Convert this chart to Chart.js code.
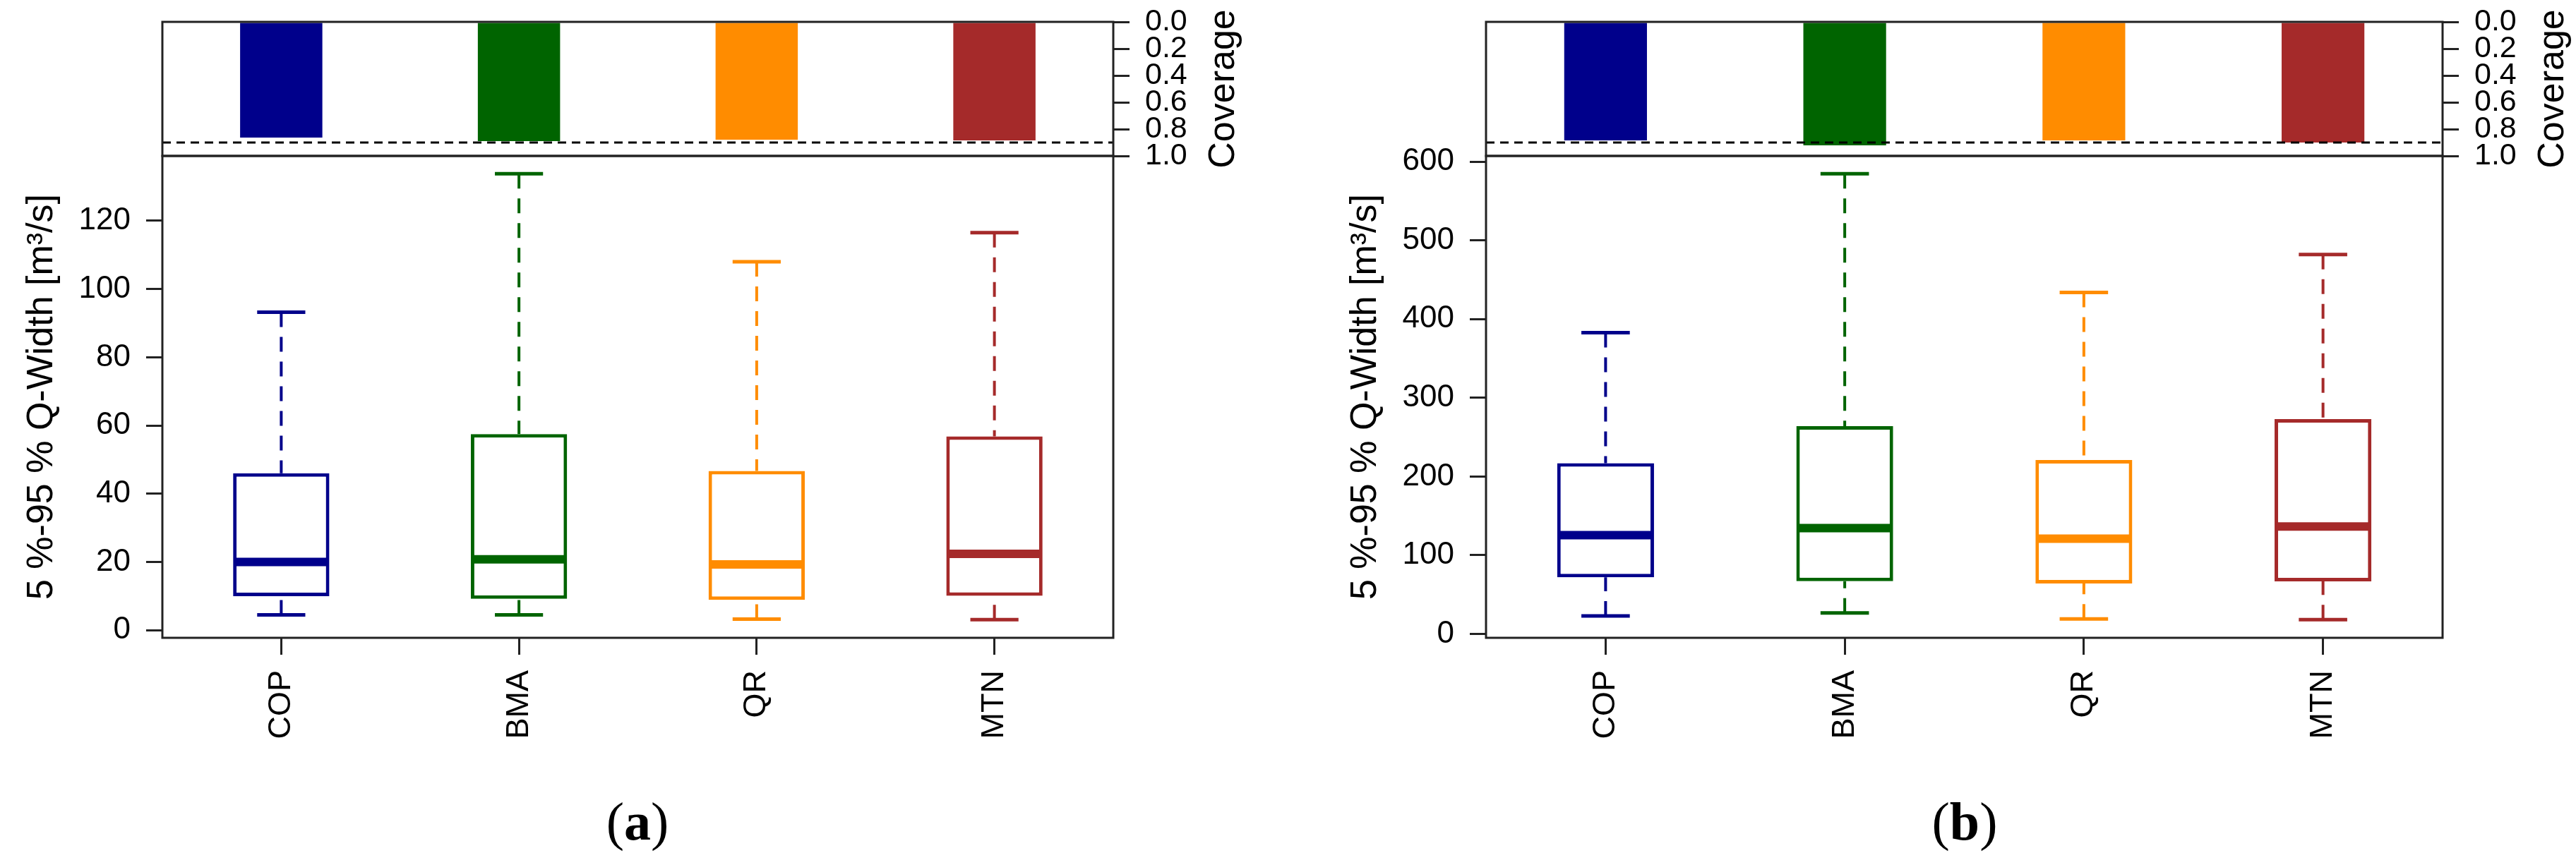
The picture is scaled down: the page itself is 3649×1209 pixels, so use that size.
<!DOCTYPE html>
<html>
<head>
<meta charset="utf-8">
<script src="https://cdn.jsdelivr.net/npm/chart.js@4.4.0/dist/chart.umd.min.js"></script>
<style>
  html, body { margin: 0; padding: 0; background: #fff; }
  body { width: 3649px; height: 1209px; position: relative; overflow: hidden; }
  canvas { position: absolute; }
  .tag {
    position: absolute;
    font-family: "Liberation Serif", "Times New Roman", serif;
    font-size: 76px;
    line-height: 1;
    transform: translateX(-50%);
  }
</style>
</head>
<body>
<canvas id="covA"></canvas>
<canvas id="boxA"></canvas>
<canvas id="covB"></canvas>
<canvas id="boxB"></canvas>
<div class="tag" style="left:903px; top:1126px">(<b>a</b>)</div>
<div class="tag" style="left:2783px; top:1126px">(<b>b</b>)</div>
<script>
// methods and colours
const methods = ['COP', 'BMA', 'QR', 'MTN'];
const colors = ['#00008B', '#006400', '#FF8C00', '#A52A2A'];

// (a) 5%-95% Q-width, boxplot stats
const aLow = [4.5, 4.5, 3.3, 3.1];
const aQ1 = [10.0, 9.2, 8.9, 10.1];
const aMed = [20.0, 20.8, 19.3, 22.4];
const aQ3 = [46.0, 57.5, 46.7, 56.8];
const aHigh = [93.2, 133.8, 108.0, 116.5];
const aCoverage = [0.863, 0.889, 0.879, 0.884];
const aTicks = [0, 20, 40, 60, 80, 100, 120];

// (b)
const bLow = [22.9, 26.6, 19.0, 18.0];
const bQ1 = [71.8, 66.9, 64.0, 66.8];
const bMed = [125.4, 134.4, 121.0, 136.5];
const bQ3 = [217.0, 264.0, 221.0, 273.0];
const bHigh = [382.7, 584.7, 434.0, 482.0];
const bCoverage = [0.884, 0.921, 0.884, 0.900];
const bTicks = [0, 100, 200, 300, 400, 500, 600];

const coverageTicks = [0, 0.2, 0.4, 0.6, 0.8, 1.0];
const coverageTarget = 0.9;

const FONT = '"Liberation Sans", Arial, Helvetica, sans-serif';
Chart.defaults.font.family = FONT;
Chart.defaults.color = '#000';

// page rows (plot area edges), canvases get extra room PAD round them
const PAD = 70;
const covTop = 31, sepY = 221, axisY = 904;

// box round the plot area (R style)
const frame = {
  id: 'frame',
  afterDraw(chart) {
    const { ctx, chartArea: a } = chart;
    ctx.save();
    ctx.strokeStyle = '#222';
    ctx.lineWidth = 3;
    ctx.strokeRect(a.left, a.top, a.right - a.left, a.bottom - a.top);
    ctx.restore();
  }
};

// dashed target line in the coverage strip
const coverageLine = {
  id: 'coverageLine',
  afterDatasetsDraw(chart) {
    const { ctx, chartArea: a, scales: { y } } = chart;
    const py = y.getPixelForValue(coverageTarget);
    ctx.save();
    ctx.strokeStyle = '#000';
    ctx.lineWidth = 3;
    ctx.setLineDash([12, 8]);
    ctx.beginPath();
    ctx.moveTo(a.left, py);
    ctx.lineTo(a.right, py);
    ctx.stroke();
    ctx.restore();
  }
};

// right axis title reads bottom-to-top, so draw it by hand
const coverageTitle = {
  id: 'coverageTitle',
  afterDraw(chart) {
    const { ctx, chartArea: a } = chart;
    ctx.save();
    ctx.translate(a.right + 157, (a.top + a.bottom) / 2);
    ctx.rotate(-Math.PI / 2);
    ctx.font = '52px ' + FONT;
    ctx.fillStyle = '#000';
    ctx.textAlign = 'center';
    ctx.textBaseline = 'middle';
    ctx.fillText('Coverage', 0, 0);
    ctx.restore();
  }
};

// whiskers, caps and medians on top of the floating-bar boxes
function whiskers(s) {
  return {
    id: 'whiskers',
    afterDatasetsDraw(chart) {
      const { ctx, scales: { x, y } } = chart;
      const bars = chart.getDatasetMeta(0).data;
      ctx.save();
      methods.forEach((m, i) => {
        const xc = x.getPixelForValue(i);
        const half = bars[i].width / 2;
        ctx.strokeStyle = colors[i];

        ctx.lineWidth = 4;
        ctx.setLineDash([21, 14]);
        ctx.beginPath();
        ctx.moveTo(xc, y.getPixelForValue(s.high[i]));
        ctx.lineTo(xc, y.getPixelForValue(s.q3[i]));
        ctx.moveTo(xc, y.getPixelForValue(s.low[i]));
        ctx.lineTo(xc, y.getPixelForValue(s.q1[i]));
        ctx.stroke();

        ctx.setLineDash([]);
        ctx.lineWidth = 5;
        ctx.beginPath();
        [s.high[i], s.low[i]].forEach(v => {
          const py = y.getPixelForValue(v);
          ctx.moveTo(xc - half / 2, py);
          ctx.lineTo(xc + half / 2, py);
        });
        ctx.stroke();

        ctx.lineWidth = 12;
        ctx.beginPath();
        const pm = y.getPixelForValue(s.med[i]);
        ctx.moveTo(xc - half + 2, pm);
        ctx.lineTo(xc + half - 2, pm);
        ctx.stroke();
      });
      ctx.restore();
    }
  };
}

function coverageChart(id, left, plotRight, values) {
  const canvas = document.getElementById(id);
  const axisW = 225;
  canvas.width = plotRight - left + axisW;
  canvas.height = (sepY - covTop) + 2 * PAD;
  canvas.style.left = left + 'px';
  canvas.style.top = (covTop - PAD) + 'px';
  return new Chart(canvas, {
    type: 'bar',
    data: {
      labels: methods,
      datasets: [{
        data: values,
        backgroundColor: colors,
        borderWidth: 0,
        barPercentage: 0.346,
        categoryPercentage: 1
      }]
    },
    options: {
      responsive: false,
      devicePixelRatio: 1,
      animation: false,
      layout: { padding: { left: 230, top: PAD, bottom: PAD, right: 0 } },
      plugins: { legend: { display: false }, tooltip: { enabled: false } },
      scales: {
        x: { display: false },
        y: {
          position: 'right',
          reverse: true,
          min: 0,
          max: 1,
          afterBuildTicks: sc => { sc.ticks = coverageTicks.map(v => ({ value: v })); },
          afterFit: sc => { sc.width = axisW; },
          grid: { drawOnChartArea: false, tickLength: 23, lineWidth: 3, color: '#222' },
          border: { display: false },
          ticks: {
            autoSkip: false,
            padding: 22,
            font: { size: 43 },
            callback: v => v.toFixed(1)
          }
        }
      }
    },
    plugins: [frame, coverageLine, coverageTitle]
  });
}

function boxChart(id, left, plotRight, s) {
  const canvas = document.getElementById(id);
  const xAxisH = 296;
  canvas.width = plotRight - left + 40;
  canvas.height = PAD + (axisY - sepY) + xAxisH;
  canvas.style.left = left + 'px';
  canvas.style.top = (sepY - PAD) + 'px';
  return new Chart(canvas, {
    type: 'bar',
    data: {
      labels: methods,
      datasets: [{
        data: methods.map((m, i) => [s.q1[i], s.q3[i]]),
        backgroundColor: '#fff',
        borderColor: colors,
        borderWidth: 5,
        borderSkipped: false,
        barPercentage: 0.405,
        categoryPercentage: 1
      }]
    },
    options: {
      responsive: false,
      devicePixelRatio: 1,
      animation: false,
      layout: { padding: { left: 0, top: PAD, bottom: 0, right: 40 } },
      plugins: { legend: { display: false }, tooltip: { enabled: false } },
      scales: {
        x: {
          afterFit: sc => { sc.height = xAxisH; },
          grid: { offset: false, drawOnChartArea: false, tickLength: 24, lineWidth: 3, color: '#222' },
          border: { display: false },
          ticks: { autoSkip: false, minRotation: 90, maxRotation: 90, padding: 22, font: { size: 45 } }
        },
        y: {
          min: s.range[0],
          max: s.range[1],
          afterBuildTicks: sc => { sc.ticks = s.ticks.map(v => ({ value: v })); },
          afterFit: sc => { sc.width = 230; },
          grid: { drawOnChartArea: false, tickLength: 23, lineWidth: 3, color: '#222' },
          border: { display: false },
          ticks: { padding: 22, font: { size: 44 } },
          title: {
            display: true,
            text: '5 %-95 % Q-Width [m³/s]',
            font: { size: 52 },
            padding: { top: 28, bottom: 0 }
          }
        }
      }
    },
    plugins: [frame, whiskers(s)]
  });
}

const statsA = { low: aLow, q1: aQ1, med: aMed, q3: aQ3, high: aHigh, ticks: aTicks, range: [-2.2, 139.0] };
const statsB = { low: bLow, q1: bQ1, med: bMed, q3: bQ3, high: bHigh, ticks: bTicks, range: [-5.0, 607.4] };

coverageChart('covA', 0, 1577, aCoverage);
boxChart('boxA', 0, 1577, statsA);
coverageChart('covB', 1875, 3460, bCoverage);
boxChart('boxB', 1875, 3460, statsB);
</script>
</body>
</html>
